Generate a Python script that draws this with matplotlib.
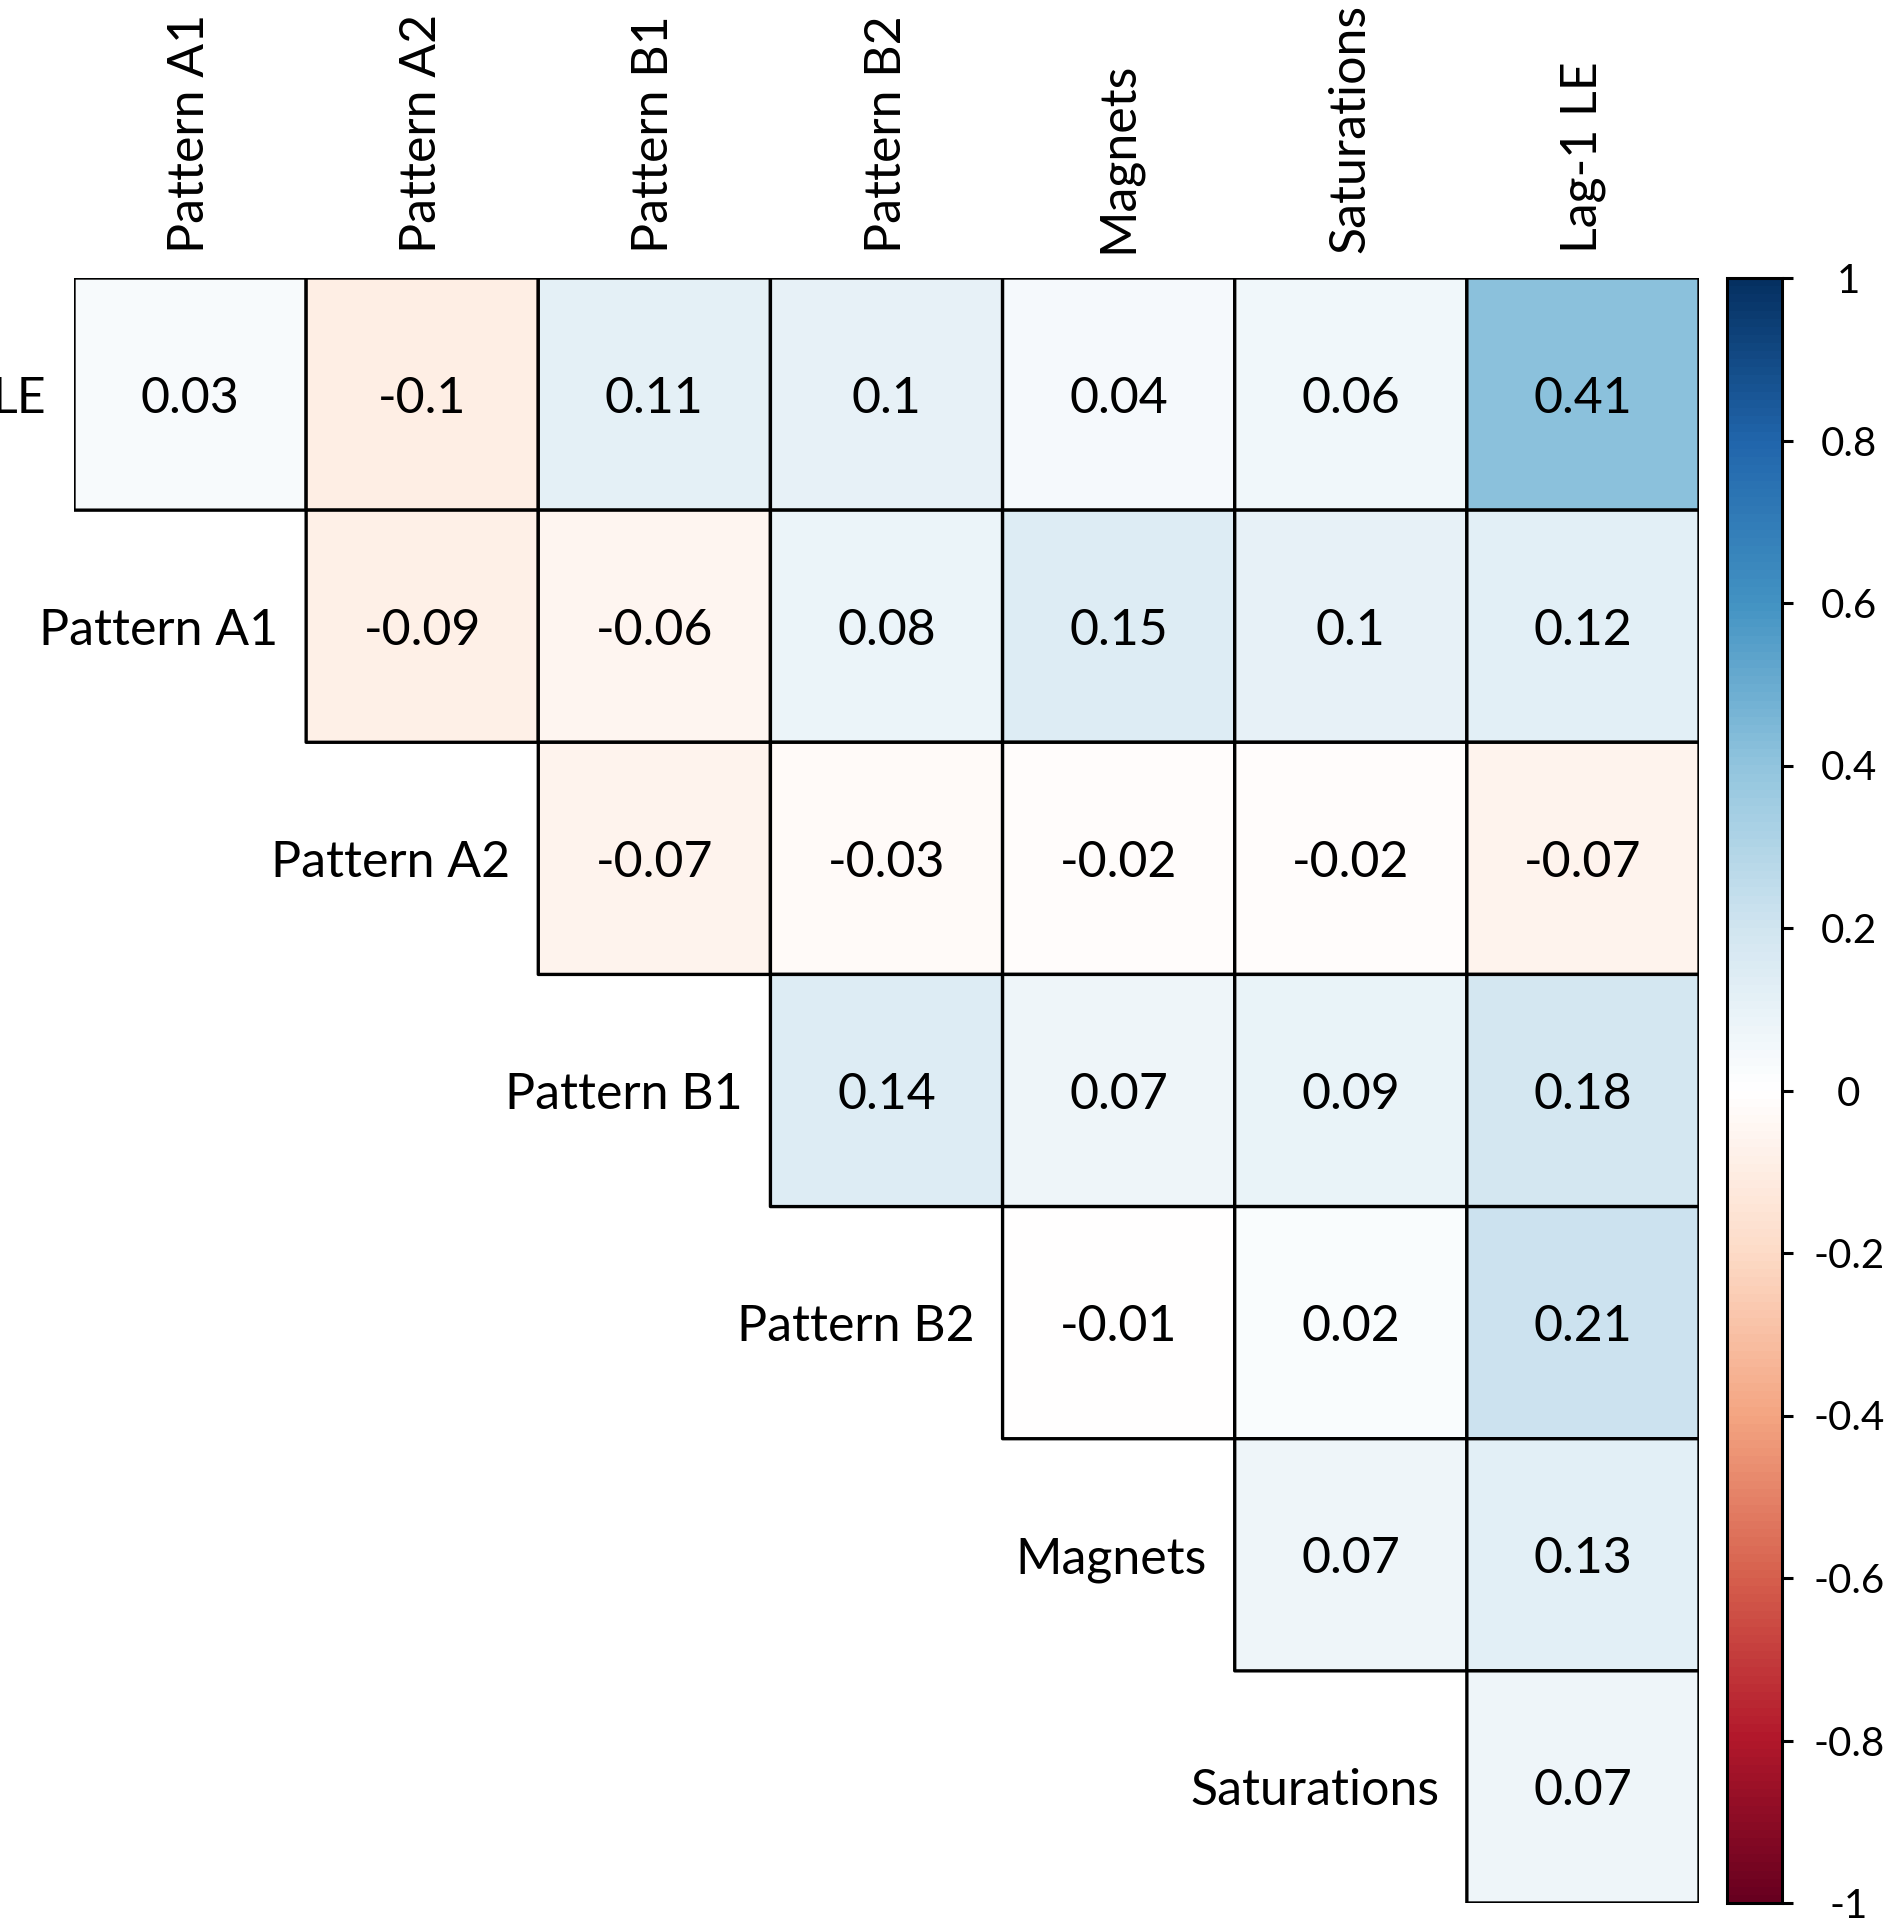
import numpy as np
import matplotlib
matplotlib.use("Agg")
import matplotlib.pyplot as plt
from matplotlib.colors import Normalize, LinearSegmentedColormap

# ---------------------------------------------------
# DATA
# ---------------------------------------------------

row_labels = ["LE", "Pattern A1", "Pattern A2", "Pattern B1",
              "Pattern B2", "Magnets", "Saturations"]

col_labels = ["Pattern A1", "Pattern A2", "Pattern B1", "Pattern B2",
              "Magnets", "Saturations", "Lag-1 LE"]

# upper triangle, one list per row (starts at the diagonal)
le_row = [0.03, -0.1, 0.11, 0.1, 0.04, 0.06, 0.41]
a1_row = [-0.09, -0.06, 0.08, 0.15, 0.1, 0.12]
a2_row = [-0.07, -0.03, -0.02, -0.02, -0.07]
b1_row = [0.14, 0.07, 0.09, 0.18]
b2_row = [-0.01, 0.02, 0.21]
magnets_row = [0.07, 0.13]
saturations_row = [0.07]

rows = [le_row, a1_row, a2_row, b1_row, b2_row, magnets_row, saturations_row]

cbar_ticks = [-1, -0.8, -0.6, -0.4, -0.2, 0, 0.2, 0.4, 0.6, 0.8, 1]

# corrplot style red-white-blue palette
palette = ["#67001F", "#B2182B", "#D6604D", "#F4A582", "#FDDBC7", "#FFFFFF",
           "#D1E5F0", "#92C5DE", "#4393C3", "#2166AC", "#053061"]

# ---------------------------------------------------
# MATRIX
# ---------------------------------------------------

n = len(col_labels)
mat = np.full((n, n), np.nan)
for i, vals in enumerate(rows):
    mat[i, i:i + len(vals)] = vals
mat = np.ma.masked_invalid(mat)

plt.rcParams["font.family"] = ["Lato", "DejaVu Sans"]

W, H = 1885, 1920
fig = plt.figure(figsize=(W / 100, H / 100), dpi=100)

# grid box in pixels
gx0, gx1 = 74, 1699
gy0, gy1 = 278, 1903

ax = fig.add_axes([gx0 / W, 1 - gy1 / H, (gx1 - gx0) / W, (gy1 - gy0) / H])

cmap = LinearSegmentedColormap.from_list("corr", palette, N=200)
norm = Normalize(vmin=-1, vmax=1)

mesh = ax.pcolor(
    np.arange(n + 1),
    np.arange(n + 1),
    mat,
    cmap=cmap,
    norm=norm,
    edgecolors="black",
    linewidth=2.4
)

ax.set_xlim(0, n)
ax.set_ylim(n, 0)
ax.axis("off")

# values
for i in range(n):
    for j in range(n):
        if not np.ma.is_masked(mat[i, j]):
            ax.text(j + 0.5, i + 0.5, f"{mat[i, j]:g}",
                    ha="center", va="center_baseline",
                    fontsize=36, color="black")

# column labels on top
for j, lab in enumerate(col_labels):
    ax.annotate(lab, xy=(j + 0.5, 0), xytext=(0, 18),
                textcoords="offset points", rotation=90,
                ha="center", va="bottom", fontsize=36,
                annotation_clip=False)

# row labels left of first cell in each row
for i, lab in enumerate(row_labels):
    ax.annotate(lab, xy=(i, i + 0.5), xytext=(-20, 0),
                textcoords="offset points",
                ha="right", va="center_baseline", fontsize=36,
                annotation_clip=False)

# ---------------------------------------------------
# COLORBAR
# ---------------------------------------------------

cx0, cx1 = 1727, 1782
cax = fig.add_axes([cx0 / W, 1 - gy1 / H, (cx1 - cx0) / W, (gy1 - gy0) / H])

cbar = fig.colorbar(mesh, cax=cax, ticks=cbar_ticks)
cbar.outline.set_linewidth(2.2)
cbar.ax.set_yticklabels([f"{t:g}" for t in cbar_ticks])
cbar.ax.tick_params(length=8, width=2.2, pad=40, labelsize=29)
for t in cbar.ax.get_yticklabels():
    t.set_ha("center")

plt.savefig("out.png", dpi=100)
